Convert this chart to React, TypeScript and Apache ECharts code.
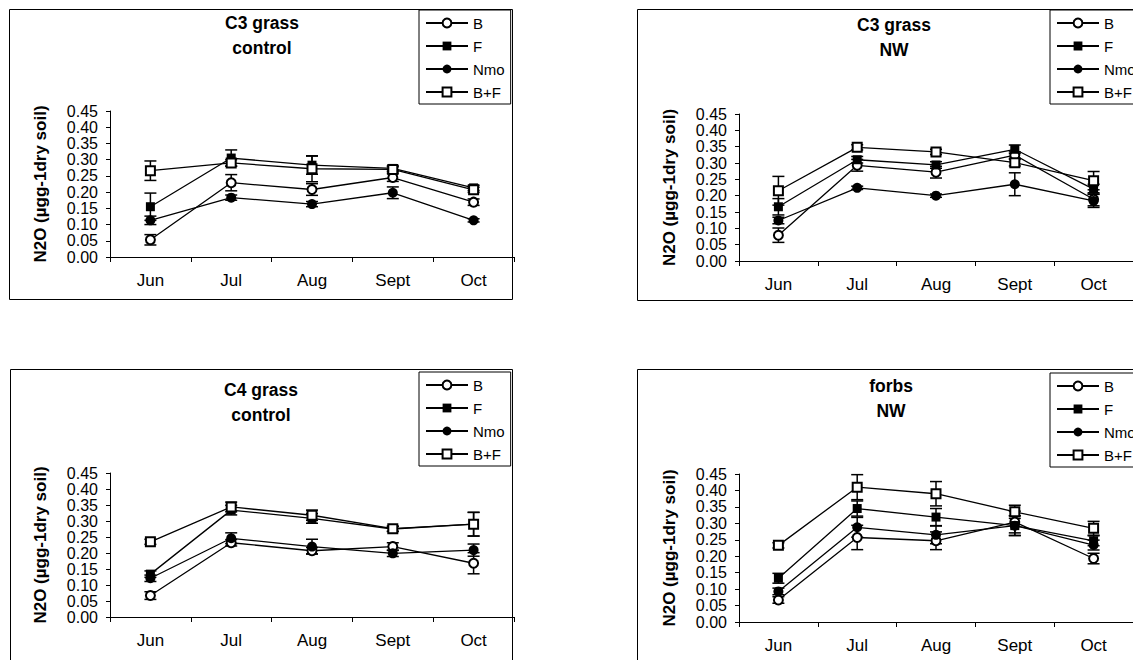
import React, { useEffect, useRef } from "react";
import * as echarts from "echarts";

// ---- categories / labels ----
const months = ["Jun", "Jul", "Aug", "Sept", "Oct"];
const seriesNames = ["B", "F", "Nmo", "B+F"];
const yAxisTitle = "N2O (\u00B5gg-1dry soil)";
const panelTitles = ["C3 grass\ncontrol", "C3 grass\nNW", "C4 grass\ncontrol", "forbs\nNW"];

// ---- C3 grass control ----
const c3ControlB = [0.053, 0.229, 0.208, 0.245, 0.169];
const c3ControlF = [0.155, 0.305, 0.283, 0.273, 0.213];
const c3ControlNmo = [0.113, 0.183, 0.163, 0.198, 0.113];
const c3ControlBF = [0.266, 0.29, 0.272, 0.27, 0.207];
const c3ControlBErr = [0.016, 0.025, 0.018, 0.012, 0.01];
const c3ControlFErr = [0.042, 0.025, 0.028, 0.008, 0.008];
const c3ControlNmoErr = [0.013, 0.008, 0.008, 0.018, 0.005];
const c3ControlBFErr = [0.03, 0.01, 0.04, 0.008, 0.008];

// ---- C3 grass NW ----
const c3NwB = [0.079, 0.293, 0.272, 0.324, 0.189];
const c3NwF = [0.166, 0.31, 0.294, 0.342, 0.22];
const c3NwNmo = [0.124, 0.224, 0.2, 0.235, 0.184];
const c3NwBF = [0.215, 0.348, 0.334, 0.301, 0.246];
const c3NwBErr = [0.022, 0.018, 0.018, 0.01, 0.02];
const c3NwFErr = [0.025, 0.01, 0.01, 0.013, 0.015];
const c3NwNmoErr = [0.01, 0.005, 0.005, 0.035, 0.02];
const c3NwBFErr = [0.044, 0.008, 0.008, 0.01, 0.028];

// ---- C4 grass control ----
const c4ControlB = [0.067, 0.232, 0.207, 0.22, 0.168];
const c4ControlF = [0.134, 0.334, 0.308, 0.275, 0.29];
const c4ControlNmo = [0.121, 0.246, 0.22, 0.199, 0.209];
const c4ControlBF = [0.235, 0.344, 0.318, 0.276, 0.29];
const c4ControlBErr = [0.012, 0.01, 0.01, 0.012, 0.033];
const c4ControlFErr = [0.01, 0.015, 0.015, 0.008, 0.037];
const c4ControlNmoErr = [0.01, 0.017, 0.023, 0.01, 0.019];
const c4ControlBFErr = [0.008, 0.015, 0.016, 0.008, 0.037];

// ---- forbs NW ----
const forbsNwB = [0.067, 0.257, 0.247, 0.304, 0.193];
const forbsNwF = [0.133, 0.345, 0.319, 0.293, 0.247];
const forbsNwNmo = [0.093, 0.288, 0.265, 0.293, 0.234];
const forbsNwBF = [0.233, 0.41, 0.39, 0.335, 0.285];
const forbsNwBErr = [0.01, 0.037, 0.027, 0.033, 0.016];
const forbsNwFErr = [0.015, 0.023, 0.026, 0.03, 0.015];
const forbsNwNmoErr = [0.01, 0.03, 0.027, 0.03, 0.015];
const forbsNwBFErr = [0.008, 0.038, 0.037, 0.02, 0.021];

const FONT = "Liberation Sans, Arial, Helvetica, sans-serif";

const markerStyles = [
  { symbol: "emptyCircle", size: 9, empty: true },
  { symbol: "rect", size: 9, empty: false },
  { symbol: "circle", size: 10, empty: false },
  { symbol: "emptyRect", size: 9, empty: true },
];

const panels = [
  {
    title: panelTitles[0],
    values: [c3ControlB, c3ControlF, c3ControlNmo, c3ControlBF],
    errors: [c3ControlBErr, c3ControlFErr, c3ControlNmoErr, c3ControlBFErr],
    grid: { left: 110, top: 111, width: 404, height: 146 },
    titlePos: { left: 262, top: 10 },
    legendPos: { left: 419, top: 10 },
    border: { x: 9.5, y: 9.5, width: 503, height: 290 },
  },
  {
    title: panelTitles[1],
    values: [c3NwB, c3NwF, c3NwNmo, c3NwBF],
    errors: [c3NwBErr, c3NwFErr, c3NwNmoErr, c3NwBFErr],
    grid: { left: 739, top: 114, width: 405, height: 147 },
    titlePos: { left: 894, top: 12 },
    legendPos: { left: 1050, top: 10 },
    border: { x: 637.5, y: 9.5, width: 600, height: 291 },
  },
  {
    title: panelTitles[2],
    values: [c4ControlB, c4ControlF, c4ControlNmo, c4ControlBF],
    errors: [c4ControlBErr, c4ControlFErr, c4ControlNmoErr, c4ControlBFErr],
    grid: { left: 110, top: 473, width: 404, height: 144 },
    titlePos: { left: 261, top: 377 },
    legendPos: { left: 419, top: 372 },
    border: { x: 10.5, y: 369.5, width: 502, height: 400 },
  },
  {
    title: panelTitles[3],
    values: [forbsNwB, forbsNwF, forbsNwNmo, forbsNwBF],
    errors: [forbsNwBErr, forbsNwFErr, forbsNwNmoErr, forbsNwBFErr],
    grid: { left: 739, top: 474, width: 405, height: 148 },
    titlePos: { left: 891, top: 373 },
    legendPos: { left: 1050, top: 373 },
    border: { x: 637.5, y: 369.5, width: 600, height: 400 },
  },
];

function renderErrorBar(params: any, api: any) {
  const x = api.value(0);
  const lo = api.coord([x, api.value(1)]);
  const hi = api.coord([x, api.value(2)]);
  const hw = 6;
  const style = { stroke: "#000", lineWidth: 1.5 };
  return {
    type: "group",
    children: [
      { type: "line", shape: { x1: lo[0], y1: lo[1], x2: hi[0], y2: hi[1] }, style },
      { type: "line", shape: { x1: lo[0] - hw, y1: lo[1], x2: lo[0] + hw, y2: lo[1] }, style },
      { type: "line", shape: { x1: hi[0] - hw, y1: hi[1], x2: hi[0] + hw, y2: hi[1] }, style },
    ],
  };
}

function buildOption() {
  const grids: any[] = [];
  const xAxes: any[] = [];
  const yAxes: any[] = [];
  const titles: any[] = [];
  const legends: any[] = [];
  const series: any[] = [];
  const graphics: any[] = [];

  panels.forEach((p, i) => {
    grids.push({ ...p.grid, containLabel: false });
    xAxes.push({
      type: "category",
      gridIndex: i,
      data: months,
      boundaryGap: true,
      axisLine: { show: true, lineStyle: { color: "#000", width: 1 } },
      axisTick: { show: true, length: 5, interval: 0, lineStyle: { color: "#000" } },
      axisLabel: { interval: 0, margin: 15, color: "#000", fontSize: 17, fontFamily: FONT },
      splitLine: { show: false },
    });
    yAxes.push({
      type: "value",
      gridIndex: i,
      min: 0,
      max: 0.45,
      interval: 0.05,
      name: yAxisTitle,
      nameLocation: "middle",
      nameGap: 61,
      nameTextStyle: { color: "#000", fontSize: 17, fontWeight: "bold", fontFamily: FONT },
      axisLine: { show: true, lineStyle: { color: "#000", width: 1 } },
      axisTick: { show: true, length: 4, lineStyle: { color: "#000" } },
      axisLabel: {
        margin: 12,
        color: "#000",
        fontSize: 16,
        fontFamily: FONT,
        formatter: (v: number) => v.toFixed(2),
      },
      splitLine: { show: false },
    });
    titles.push({
      text: p.title,
      left: p.titlePos.left,
      top: p.titlePos.top,
      textAlign: "center",
      padding: 0,
      textStyle: { color: "#000", fontSize: 17.5, fontWeight: "bold", fontFamily: FONT, lineHeight: 25 },
    });
    legends.push({
      data: seriesNames,
      orient: "vertical",
      left: p.legendPos.left,
      top: p.legendPos.top,
      padding: [5, 6, 4, 6],
      itemGap: 7,
      itemWidth: 42,
      itemHeight: 11,
      borderColor: "#000",
      borderWidth: 1,
      backgroundColor: "#fff",
      selectedMode: false,
      textStyle: { color: "#000", fontSize: 15, fontFamily: FONT, lineHeight: 16 },
    });
    p.values.forEach((vals, s) => {
      const m = markerStyles[s];
      series.push({
        type: "line",
        name: seriesNames[s],
        xAxisIndex: i,
        yAxisIndex: i,
        data: vals,
        symbol: m.symbol,
        symbolSize: m.size,
        showAllSymbol: true,
        lineStyle: { color: "#000", width: 1.3 },
        itemStyle: m.empty
          ? { color: "#000", borderColor: "#000", borderWidth: 1.3 }
          : { color: "#000", borderWidth: 0 },
        emphasis: { disabled: true },
        z: 3,
      });
      const errs = p.errors[s];
      series.push({
        type: "custom",
        name: "err",
        xAxisIndex: i,
        yAxisIndex: i,
        data: vals.map((v, k) => [k, v - errs[k], v + errs[k]]),
        encode: { x: 0, y: [1, 2] },
        renderItem: renderErrorBar,
        silent: true,
        z: 2,
      });
    });
    graphics.push({
      type: "rect",
      shape: p.border,
      style: { fill: "none", stroke: "#000", lineWidth: 1 },
      silent: true,
      z: -10,
    });
  });

  return {
    animation: false,
    backgroundColor: "#fff",
    grid: grids,
    xAxis: xAxes,
    yAxis: yAxes,
    title: titles,
    legend: legends,
    series,
    graphic: graphics,
  };
}

export default function App() {
  const ref = useRef<HTMLDivElement>(null);
  useEffect(() => {
    if (!ref.current) return;
    const chart = echarts.init(ref.current, undefined, { renderer: "svg" });
    chart.setOption(buildOption() as any);
    return () => chart.dispose();
  }, []);
  return (
    <div
      ref={ref}
      style={{ position: "fixed", left: 0, top: 0, width: 1133, height: 660, background: "#fff" }}
    />
  );
}
